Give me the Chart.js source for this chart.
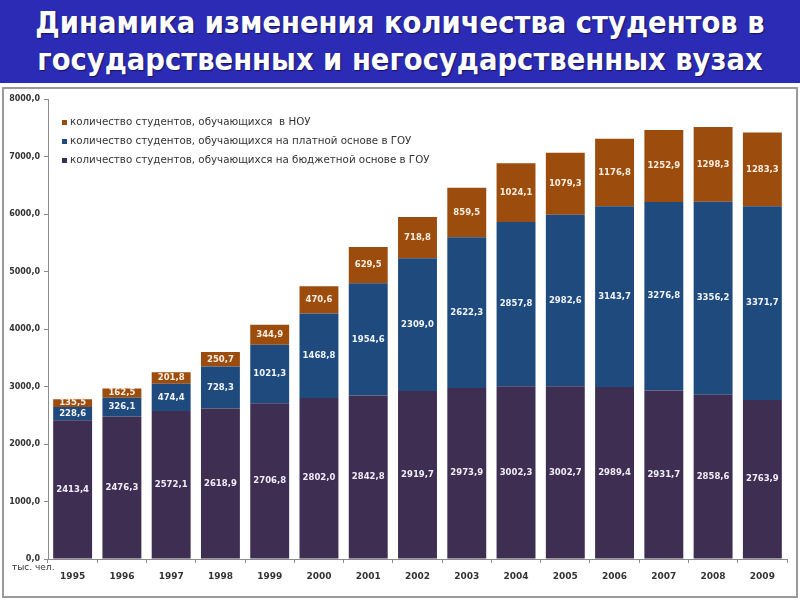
<!DOCTYPE html>
<html lang="ru">
<head>
    <meta charset="UTF-8">
    <title>Динамика изменения количества студентов</title>
    <style>
        body {
            margin: 0;
            width: 800px;
            height: 600px;
            position: relative;
            background-color: #ffffff;
            font-family: "DejaVu Sans", Arial, sans-serif;
            overflow: hidden;
        }
        .header {
            position: absolute;
            left: 0;
            top: 0;
            width: 800px;
            height: 83px;
            background-color: #2b2bb6;
            color: #ffffff;
            text-align: center;
            font-family: "DejaVu Sans Condensed", "DejaVu Sans", sans-serif;
            font-weight: bold;
            font-size: 30.5px;
            line-height: 37px;
            padding-top: 4px;
            box-sizing: border-box;
            text-shadow: 1px 1px 1px rgba(0, 0, 0, 0.5);
        }
        .panel {
            position: absolute;
            left: 2px;
            top: 87px;
            width: 792px;
            height: 507px;
            border: 2px solid #9a9a9a;
        }
        .chart-box {
            position: absolute;
            left: 0;
            top: 86px;
            width: 800px;
            height: 510px;
        }
        .legend {
            position: absolute;
            left: 62px;
            top: 112px;
            font-size: 10.3px;
            color: #333333;
            line-height: 19px;
        }
        .legend span.box {
            display: inline-block;
            width: 5px;
            height: 5px;
            margin-right: 3px;
            vertical-align: middle;
        }
        .units {
            position: absolute;
            left: 12px;
            top: 562px;
            font-size: 9px;
            color: #333333;
        }
    </style>
</head>
<body>
    <div class="header">Динамика изменения количества студентов в<br>государственных и негосударственных вузах</div>
    <div class="panel"></div>
    <div class="chart-box">
        <canvas id="studentsChart" width="800" height="510"></canvas>
    </div>
    <div class="legend">
        <div><span class="box" style="background:#9c4d0d"></span>количество студентов, обучающихся&nbsp; в НОУ</div>
        <div><span class="box" style="background:#1f4a7e"></span>количество студентов, обучающихся на платной основе в ГОУ</div>
        <div><span class="box" style="background:#3e2e52"></span>количество студентов, обучающихся на бюджетной основе в ГОУ</div>
    </div>
    <div class="units">тыс. чел.</div>

    <script src="https://cdn.jsdelivr.net/npm/chart.js"></script>
    <script>
        const years = ['1995', '1996', '1997', '1998', '1999', '2000', '2001', '2002',
                       '2003', '2004', '2005', '2006', '2007', '2008', '2009'];
        const budgetGOU = [2413.4, 2476.3, 2572.1, 2618.9, 2706.8, 2802.0, 2842.8, 2919.7,
                           2973.9, 3002.3, 3002.7, 2989.4, 2931.7, 2858.6, 2763.9];
        const paidGOU = [228.6, 326.1, 474.4, 728.3, 1021.3, 1468.8, 1954.6, 2309.0,
                         2622.3, 2857.8, 2982.6, 3143.7, 3276.8, 3356.2, 3371.7];
        const studentsNOU = [135.5, 162.5, 201.8, 250.7, 344.9, 470.6, 629.5, 718.8,
                             859.5, 1024.1, 1079.3, 1176.8, 1252.9, 1298.3, 1283.3];
        const yTicks = [0, 1000, 2000, 3000, 4000, 5000, 6000, 7000, 8000];

        function fmt(v) {
            return v.toFixed(1).replace('.', ',');
        }

        // draw the value in the middle of each bar segment
        const segmentLabels = {
            id: 'segmentLabels',
            afterDatasetsDraw(chart) {
                const ctx = chart.ctx;
                ctx.save();
                ctx.font = 'bold 8.5px "DejaVu Sans", sans-serif';
                ctx.textAlign = 'center';
                ctx.textBaseline = 'middle';
                chart.data.datasets.forEach((ds, i) => {
                    const meta = chart.getDatasetMeta(i);
                    ctx.fillStyle = ds.labelColor;
                    meta.data.forEach((bar, j) => {
                        const p = bar.getProps(['x', 'y', 'base'], true);
                        ctx.fillText(fmt(ds.data[j]), p.x, (p.y + p.base) / 2);
                    });
                });
                ctx.restore();
            }
        };

        const ctx = document.getElementById('studentsChart').getContext('2d');
        new Chart(ctx, {
            type: 'bar',
            data: {
                labels: years,
                datasets: [
                    { label: 'бюджет ГОУ', data: budgetGOU, backgroundColor: '#3e2e52', labelColor: '#f0ecf6' },
                    { label: 'платно ГОУ', data: paidGOU, backgroundColor: '#1f4a7e', labelColor: '#f0f4fa' },
                    { label: 'НОУ', data: studentsNOU, backgroundColor: '#9c4d0d', labelColor: '#fdeee0' }
                ]
            },
            options: {
                responsive: false,
                animation: false,
                layout: { autoPadding: false, padding: { top: 13, right: 13, left: 0, bottom: 0 } },
                plugins: {
                    legend: { display: false },
                    tooltip: { enabled: false }
                },
                datasets: {
                    bar: { barPercentage: 0.79, categoryPercentage: 1.0 }
                },
                scales: {
                    x: {
                        stacked: true,
                        afterFit(scale) { scale.height = 37; },
                        grid: { offset: true, drawOnChartArea: false, tickLength: 4, color: '#8c8c8c' },
                        border: { color: '#8c8c8c' },
                        ticks: {
                            color: '#333333',
                            padding: 8,
                            font: { family: 'DejaVu Sans', size: 9, weight: 'bold' }
                        }
                    },
                    y: {
                        stacked: true,
                        min: 0,
                        max: 8000,
                        afterFit(scale) { scale.width = 48; },
                        afterBuildTicks(scale) { scale.ticks = yTicks.map(v => ({ value: v })); },
                        grid: { drawOnChartArea: false, tickLength: 4, color: '#8c8c8c' },
                        border: { color: '#8c8c8c' },
                        ticks: {
                            color: '#333333',
                            padding: 4,
                            font: { family: 'DejaVu Sans', size: 8, weight: 'bold' },
                            callback: v => fmt(v)
                        }
                    }
                }
            },
            plugins: [segmentLabels]
        });
    </script>
</body>
</html>
